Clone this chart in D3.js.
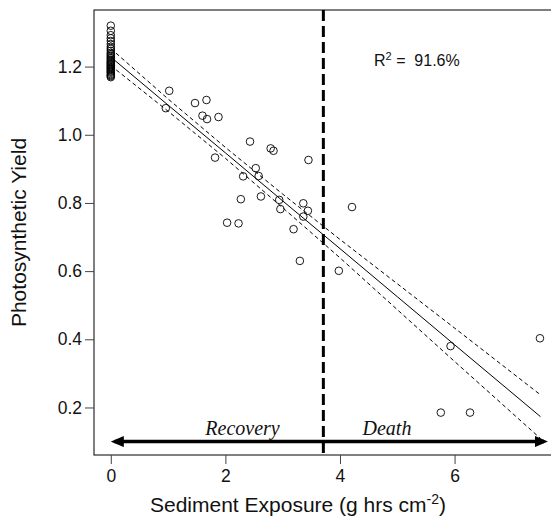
<!DOCTYPE html>
<html lang="en">
<head>
<meta charset="UTF-8">
<title>Photosynthetic Yield vs Sediment Exposure</title>
<script src="https://cdn.jsdelivr.net/npm/d3@7/dist/d3.min.js"></script>
<style>
  body { margin: 0; background: #fff; }
  svg { display: block; font-family: "Liberation Sans", Arial, sans-serif; }
</style>
</head>
<body>
<div id="chart"></div>
<script>
// yield of the fragments that had no sediment (x = 0)
const zeroYield = [1.320, 1.305, 1.292, 1.283, 1.275, 1.266, 1.258, 1.252, 1.246, 1.240,
  1.236, 1.232, 1.228, 1.224, 1.220, 1.216, 1.213, 1.210, 1.207, 1.204, 1.201, 1.198,
  1.195, 1.192, 1.188, 1.185, 1.182, 1.178, 1.175, 1.172, 1.169];

// exposed fragments
const exposureX = [0.96, 1.02, 1.47, 1.60, 1.67, 1.68, 1.82, 1.88, 2.03, 2.23, 2.27, 2.31,
  2.43, 2.53, 2.58, 2.62, 2.79, 2.84, 2.94, 2.96, 3.19, 3.30, 3.36, 3.36, 3.44, 3.45,
  3.98, 4.21, 5.76, 5.93, 6.27, 7.49];
const exposureY = [1.078, 1.129, 1.093, 1.056, 1.102, 1.046, 0.933, 1.052, 0.742, 0.740, 0.811, 0.878,
  0.980, 0.902, 0.879, 0.819, 0.960, 0.953, 0.809, 0.782, 0.723, 0.630, 0.799, 0.760, 0.777, 0.926,
  0.601, 0.788, 0.185, 0.380, 0.185, 0.403];

// regression and 95% band
const fitX = [0, 1, 2, 3, 4, 5, 6, 7.5];
const fitY = [1.228, 1.087, 0.947, 0.806, 0.666, 0.525, 0.384, 0.173];
const upperY = [1.253, 1.105, 0.963, 0.826, 0.693, 0.563, 0.433, 0.237];
const lowerY = [1.203, 1.069, 0.931, 0.786, 0.639, 0.487, 0.335, 0.109];

const xTicks = [0, 2, 4, 6];
const yTicks = [0.2, 0.4, 0.6, 0.8, 1.0, 1.2];
const thresholdX = 3.71;
const arrowX = [0, 7.63];
const arrowY = 0.1;
const regionNames = ["Recovery", "Death"];
const regionX = [2.30, 4.82];
const regionY = 0.119;
const rSquared = "91.6%";

const width = 551, height = 521;
const svg = d3.select("#chart").append("svg")
  .attr("width", width).attr("height", height);

const x = d3.scaleLinear().domain([-0.293, 7.8]).range([94, 557.7]);
const y = d3.scaleLinear().domain([0.0606, 1.366]).range([455, 10]);

svg.append("defs").append("marker")
  .attr("id", "head")
  .attr("markerUnits", "userSpaceOnUse")
  .attr("viewBox", "0 0 13 11")
  .attr("refX", 9).attr("refY", 5.5)
  .attr("markerWidth", 13).attr("markerHeight", 11)
  .attr("orient", "auto-start-reverse")
  .append("path").attr("d", "M0,0L13,5.5L0,11Z").attr("fill", "#000");

// plot box
svg.append("rect")
  .attr("x", x.range()[0]).attr("y", y.range()[1])
  .attr("width", x.range()[1] - x.range()[0])
  .attr("height", y.range()[0] - y.range()[1])
  .attr("fill", "none").attr("stroke", "#000").attr("stroke-width", 1);

// axes
const yAxis = svg.append("g")
  .attr("transform", `translate(${x.range()[0]},0)`)
  .call(d3.axisLeft(y).tickValues(yTicks).tickFormat(d3.format(".1f")).tickSize(9).tickPadding(3).tickSizeOuter(0));
const xAxis = svg.append("g")
  .attr("transform", `translate(0,${y.range()[0]})`)
  .call(d3.axisBottom(x).tickValues(xTicks).tickFormat(d3.format("d")).tickSize(9).tickPadding(6).tickSizeOuter(0));
[yAxis, xAxis].forEach(g => {
  g.select(".domain").remove();
  g.selectAll(".tick line").attr("stroke", "#444");
  g.selectAll(".tick text").attr("fill", "#111")
    .attr("font-family", "Liberation Sans, Arial, sans-serif").attr("font-size", 17.5);
});

svg.append("text")
  .attr("transform", `translate(26,${(y.range()[0] + y.range()[1]) / 2}) rotate(-90)`)
  .attr("text-anchor", "middle").attr("font-size", 21).attr("fill", "#111")
  .text("Photosynthetic Yield");

const xt = svg.append("text")
  .attr("x", 298).attr("y", 512)
  .attr("text-anchor", "middle").attr("font-size", 21).attr("fill", "#111");
xt.append("tspan").text("Sediment Exposure (g hrs cm");
xt.append("tspan").attr("dy", -8).attr("font-size", 14).text("-2");
xt.append("tspan").attr("dy", 8).text(")");

// confidence band and fit
const line = d3.line().x(d => x(d[0])).y(d => y(d[1]));
[upperY, lowerY].forEach(band => {
  svg.append("path")
    .attr("d", line(fitX.map((v, i) => [v, band[i]])))
    .attr("fill", "none").attr("stroke", "#000").attr("stroke-width", 1)
    .attr("stroke-dasharray", "4,3");
});
svg.append("path")
  .attr("d", line(fitX.map((v, i) => [v, fitY[i]])))
  .attr("fill", "none").attr("stroke", "#000").attr("stroke-width", 1);

// points
const pts = zeroYield.map(v => [0, v]).concat(exposureX.map((v, i) => [v, exposureY[i]]));
svg.append("g").selectAll("circle")
  .data(pts).join("circle")
  .attr("cx", d => x(d[0])).attr("cy", d => y(d[1]))
  .attr("r", 3.8)
  .attr("fill", "none").attr("stroke", "#000").attr("stroke-width", 0.9);

// threshold
svg.append("line")
  .attr("x1", x(thresholdX)).attr("x2", x(thresholdX))
  .attr("y1", y.range()[1]).attr("y2", y.range()[0] + 2)
  .attr("stroke", "#000").attr("stroke-width", 3)
  .attr("stroke-dasharray", "11,5");

// recovery / death arrow
svg.append("line")
  .attr("x1", x(arrowX[0]) + 4).attr("x2", x(arrowX[1]) - 4)
  .attr("y1", y(arrowY)).attr("y2", y(arrowY))
  .attr("stroke", "#000").attr("stroke-width", 3.5)
  .attr("marker-start", "url(#head)").attr("marker-end", "url(#head)");

svg.selectAll(".region").data(regionNames).join("text")
  .attr("class", "region")
  .attr("x", (d, i) => x(regionX[i])).attr("y", y(regionY))
  .attr("text-anchor", "middle")
  .attr("font-family", "Liberation Serif, Times New Roman, serif")
  .attr("font-style", "italic").attr("font-size", 20).attr("fill", "#111")
  .text(d => d);

const r2 = svg.append("text")
  .attr("x", 374).attr("y", 66).attr("font-size", 16).attr("fill", "#111")
  .style("white-space", "pre");
r2.append("tspan").text("R");
r2.append("tspan").attr("dy", -6).attr("font-size", 11).text("2");
r2.append("tspan").attr("dy", 6).text(" =  " + rSquared);
</script>
</body>
</html>
